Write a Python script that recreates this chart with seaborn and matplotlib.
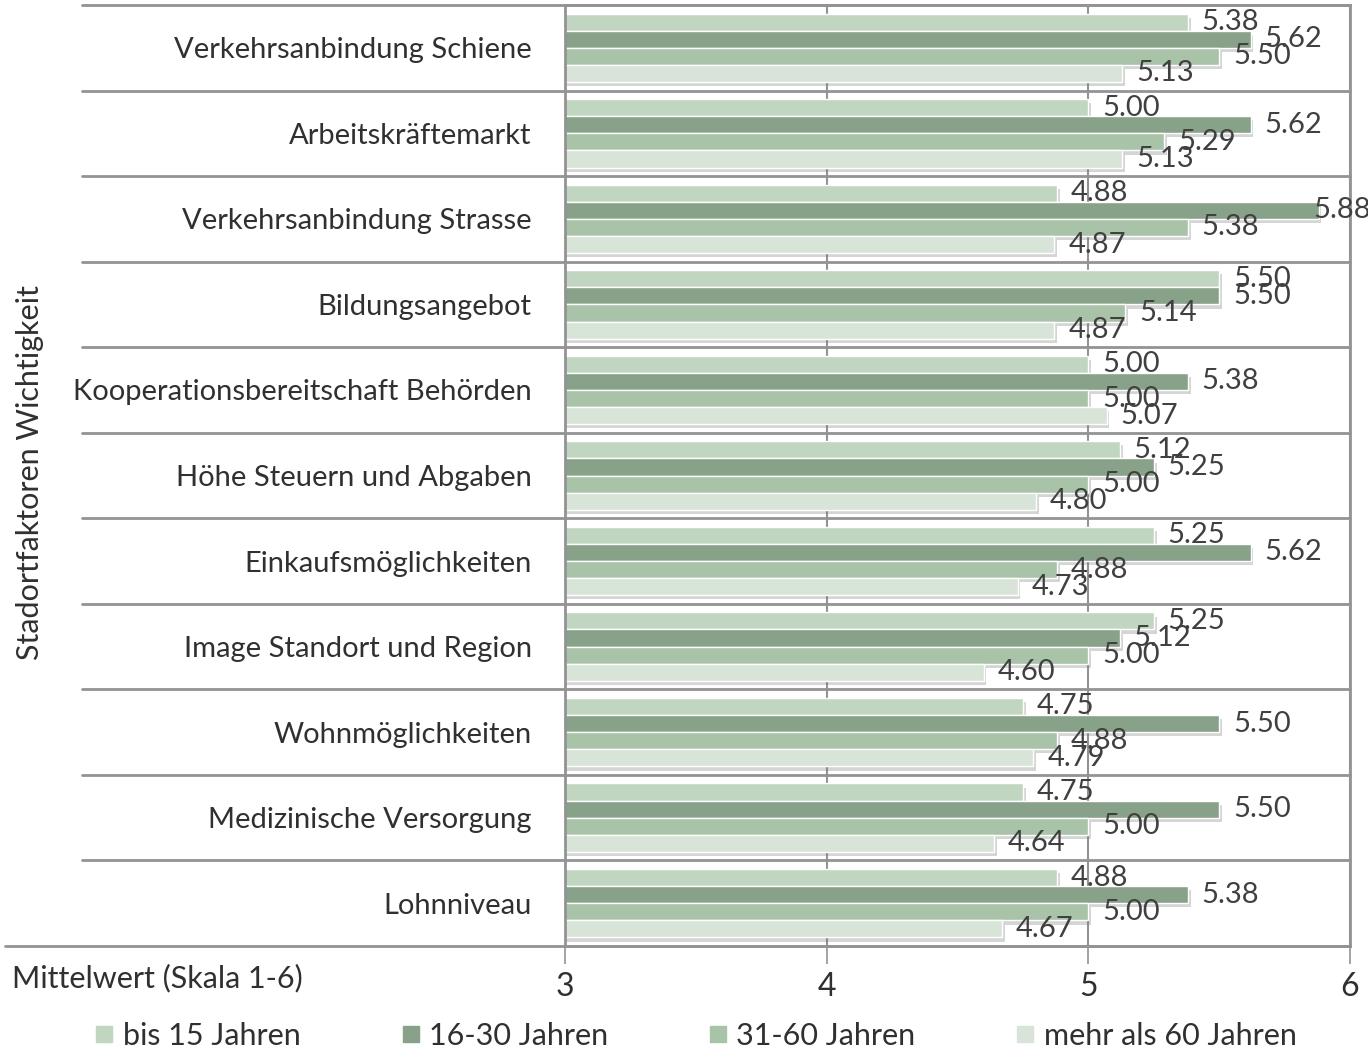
import numpy as np
import pandas as pd
import matplotlib
matplotlib.use("Agg")
import matplotlib.pyplot as plt
import matplotlib.patheffects as pe
from matplotlib.lines import Line2D
import seaborn as sns

# --- data ---
faktoren = [
    "Verkehrsanbindung Schiene",
    "Arbeitskräftemarkt",
    "Verkehrsanbindung Strasse",
    "Bildungsangebot",
    "Kooperationsbereitschaft Behörden",
    "Höhe Steuern und Abgaben",
    "Einkaufsmöglichkeiten",
    "Image Standort und Region",
    "Wohnmöglichkeiten",
    "Medizinische Versorgung",
    "Lohnniveau",
]
gruppen = ["bis 15 Jahren", "16-30 Jahren", "31-60 Jahren", "mehr als 60 Jahren"]

bis_15 = [5.38, 5.00, 4.88, 5.50, 5.00, 5.12, 5.25, 5.25, 4.75, 4.75, 4.88]
j16_30 = [5.62, 5.62, 5.88, 5.50, 5.38, 5.25, 5.62, 5.12, 5.50, 5.50, 5.38]
j31_60 = [5.50, 5.29, 5.38, 5.14, 5.00, 5.00, 4.88, 5.00, 4.88, 5.00, 5.00]
ueber_60 = [5.13, 5.13, 4.87, 4.87, 5.07, 4.80, 4.73, 4.60, 4.79, 4.64, 4.67]

farben = ["#c1d6c1", "#88a189", "#a8c3a8", "#d9e4d9"]

df = pd.DataFrame({
    "Faktor": faktoren * 4,
    "Gruppe": np.repeat(gruppen, len(faktoren)),
    "Mittelwert": bis_15 + j16_30 + j31_60 + ueber_60,
})

sns.set_theme(style="white")
plt.rcParams["font.family"] = ["Lato", "DejaVu Sans"]
txt = "#303030"
linie = "#939393"

fig = plt.figure(figsize=(13.68, 10.53), dpi=100)
ax = fig.add_axes([565 / 1368, 1 - 946 / 1053, 785 / 1368, 941 / 1053])

sns.barplot(data=df, y="Faktor", x="Mittelwert", hue="Gruppe", order=faktoren,
            hue_order=gruppen, palette=farben, orient="h", width=0.8,
            edgecolor="white", linewidth=1.0, saturation=1, legend=False, ax=ax)

schatten = [pe.SimplePatchShadow(offset=(2, -3), shadow_rgbFace="#777777", alpha=0.3),
            pe.Normal()]
for bar in ax.patches:
    bar.set_path_effects(schatten)
    w = bar.get_width()
    if np.isnan(w):
        continue
    yc = bar.get_y() + bar.get_height() / 2
    dx = -4 if w > 5.8 else 10
    ax.annotate(f"{w:.2f}", xy=(w, yc), xytext=(dx, 0), textcoords="offset points",
                ha="left", va="center", fontsize=21, color="#404040", annotation_clip=False)

ax.set_xlim(3, 6)
ax.set_ylim(len(faktoren) - 0.5, -0.5)
ax.set_xticks([3, 4, 5, 6])
ax.tick_params(axis="x", direction="out", length=13, width=1.2, color=linie, pad=6,
               labelsize=23, labelcolor=txt, bottom=True)
ax.tick_params(axis="y", length=0, pad=24, labelsize=21, labelcolor=txt)
ax.set_xlabel("")
ax.set_ylabel("")
ax.grid(axis="x", color=linie, linewidth=1.5)
ax.set_axisbelow(True)
for s in ax.spines.values():
    s.set_color(linie)
    s.set_linewidth(2)

# category separator lines reaching into the label area
trans = ax.get_yaxis_transform()
for k in range(len(faktoren) + 1):
    y = k - 0.5
    x0 = -0.713 if k == len(faktoren) else -0.615
    ax.plot([x0, 1], [y, y], transform=trans, color=linie, lw=2, clip_on=False, zorder=0.5)

fig.text(30 / 1368, 1 - 473 / 1053, "Stadortfaktoren Wichtigkeit", rotation=90,
         ha="center", va="center", fontsize=22, color=txt)
fig.text(12 / 1368, 1 - 978 / 1053, "Mittelwert (Skala 1-6)", ha="left", va="center",
         fontsize=22, color=txt)

handles = [Line2D([], [], marker="s", linestyle="none", markersize=12,
                  markerfacecolor=c, markeredgecolor=c) for c in farben]
fig.legend(handles, gruppen, loc="center", bbox_to_anchor=(0.5 + 12 / 1368, 1 - 1036 / 1053),
           ncol=4, frameon=False, fontsize=22, handlelength=0.6, handletextpad=0.3,
           columnspacing=3.3, labelcolor=txt)

fig.savefig("out.png", dpi=100)
